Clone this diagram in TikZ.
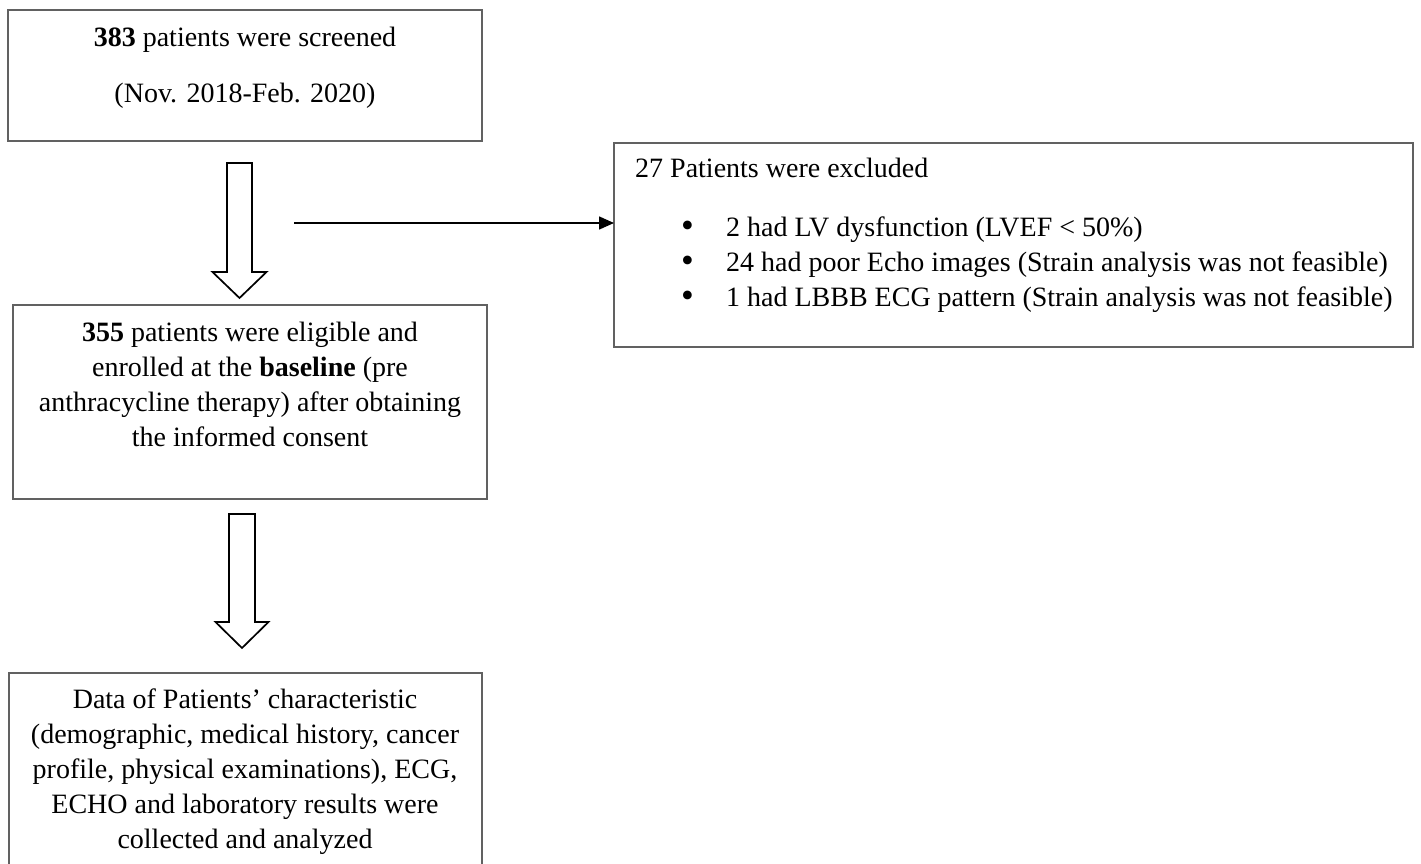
\documentclass[tikz,border=0pt]{standalone}
\usepackage{fontspec}
\setmainfont{Liberation Serif}
\usetikzlibrary{arrows.meta,calc}
\newcommand{\bigdot}{\makebox[45pt][l]{\smash{\raisebox{-1pt}{\scalebox{1.3}{\textbullet}}}}}
\tikzset{
  frame/.style={draw=black!62, line width=1.8pt, inner sep=0pt, outer sep=0pt},
  txt/.style={inner sep=0pt, align=center, font=\fontsize{28}{35}\selectfont},
  ltxt/.style={inner sep=0pt, align=left, font=\fontsize{28}{35}\selectfont},
  hollow/.style={draw=black, line width=1.7pt, fill=white, line join=miter},
  link/.style={draw=black, line width=1.6pt, -{Triangle[length=15pt,width=13pt]}},
}
\begin{document}
\begin{tikzpicture}[x=1pt,y=-1pt]
\useasboundingbox (0,0) rectangle (1421,864);
\fill[white] (0,0) rectangle (1421,864);

% boxes of the flow
\node[frame, minimum width=474pt, minimum height=131pt] (b1) at (245,75.5) {};
\node[frame, minimum width=474pt, minimum height=194pt] (b2) at (250,402) {};
\node[frame, minimum width=473pt, minimum height=215pt] (b3) at (245.5,780.5) {};
\node[frame, minimum width=799pt, minimum height=204pt] (ex) at (1013.5,245) {};

% texts
\node[txt, anchor=north, font=\fontsize{28}{56}\selectfont] (t1) at (245,27)
  {\textbf{383} patients were screened\\(Nov. 2018-Feb. 2020)};
\node[txt, anchor=north] (t2) at (250,322)
  {\textbf{355} patients were eligible and\\enrolled at the \textbf{baseline} (pre\\anthracycline therapy) after obtaining\\the informed consent};
\node[txt, anchor=north] (t3) at (245,689)
  {Data of Patients’ characteristic\\(demographic, medical history, cancer\\profile, physical examinations), ECG,\\ECHO and laboratory results were\\collected and analyzed};
\node[ltxt, anchor=base west] (exh) at (635,177) {27 Patients were excluded};
\node[ltxt, anchor=north west] (exl) at (681,217)
  {\bigdot 2 had LV dysfunction (LVEF < 50\%)\\
   \bigdot 24 had poor Echo images (Strain analysis was not feasible)\\
   \bigdot 1 had LBBB ECG pattern (Strain analysis was not feasible)};

% hollow block arrows between the boxes
\coordinate (a1t) at (239.5,163);
\coordinate (a1h) at (239.5,298);
\draw[hollow] ($(a1t)+(-12.5,0)$) -- ($(a1t)+(12.5,0)$) -- ($(a1h)+(12.5,-26)$)
  -- ($(a1h)+(27,-26)$) -- (a1h) -- ($(a1h)+(-27,-26)$) -- ($(a1h)+(-12.5,-26)$) -- cycle;
\coordinate (a2t) at (242,514);
\coordinate (a2h) at (242,648);
\draw[hollow] ($(a2t)+(-13,0)$) -- ($(a2t)+(13,0)$) -- ($(a2h)+(13,-26)$)
  -- ($(a2h)+(26.5,-26)$) -- (a2h) -- ($(a2h)+(-26.5,-26)$) -- ($(a2h)+(-13,-26)$) -- cycle;

% exclusion arrow
\coordinate (hs) at (294,223);
\draw[link] (hs) -- (hs -| ex.west);
\end{tikzpicture}
\end{document}
